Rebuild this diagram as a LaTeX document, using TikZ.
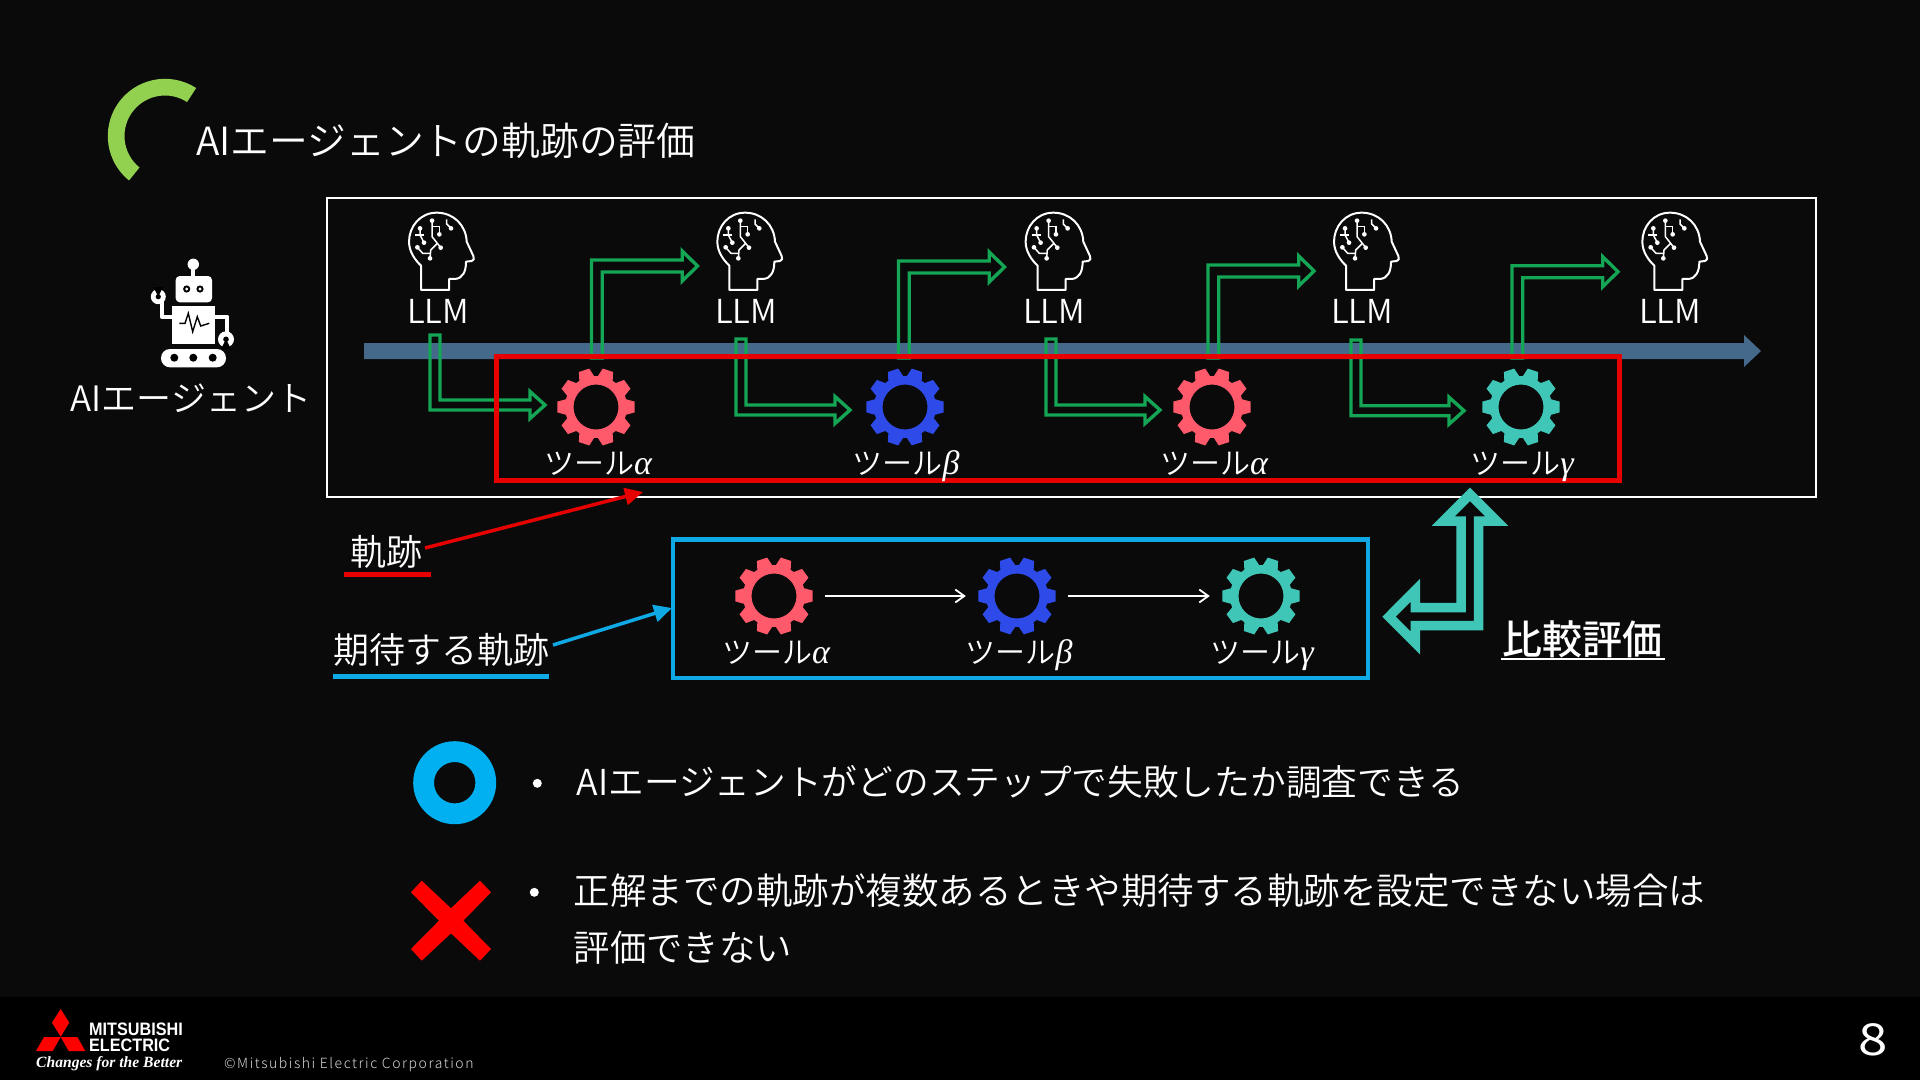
\documentclass[tikz,border=0pt]{standalone}
\usepackage{fontspec}
\usetikzlibrary{arrows.meta}
\setmainfont{Noto Sans CJK JP DemiLight}
\newfontfamily\boldjp{Noto Sans CJK JP Medium}
\newfontfamily\regjp{Noto Sans CJK JP}
\newfontfamily\logosans{Liberation Sans}[BoldFont={Liberation Sans Bold}]
\newfontfamily\logoserif{Liberation Serif}
\newfontfamily\greekit{Liberation Serif}
\newfontfamily\copyfont[LetterSpace=11]{Noto Sans CJK JP Light}
\newcommand{\fs}[1]{\fontsize{#1}{#1}\selectfont}
\newcommand{\grk}[1]{{\greekit\itshape\fs{34}#1}}
\definecolor{bgc}{HTML}{0A0A0A}
\definecolor{arcgreen}{HTML}{92D050}
\definecolor{flowgreen}{HTML}{14A555}
\definecolor{barblue}{HTML}{44698A}
\definecolor{redline}{HTML}{E60000}
\definecolor{skyline}{HTML}{0FA9E6}
\definecolor{coral}{HTML}{FF5A6C}
\definecolor{gearblue}{HTML}{2E4BEA}
\definecolor{teal}{HTML}{40C6B6}
\definecolor{ringblue}{HTML}{00B0F0}
\tikzset{
 txt/.style={inner sep=0pt,text=white,font=\fs{36}},
 lbl/.style={inner sep=0pt,text=white,font=\fs{30},anchor=base},
 llm/.style={inner sep=0pt,text=white,font=\fs{33}},
 flow/.style={draw=flowgreen,line width=3.4pt,miter limit=10},
 ghost/.style={circle,inner sep=0pt,minimum size=102pt},
 thin wire/.style={white,line width=1.5pt}
}
% up-right block arrow: left x, axis y
\newcommand{\uparrowblock}[2]{\draw[flow] (#1,358)--(#1,{#2-6})--({#1+90.7},{#2-6})--({#1+90.7},{#2-15})--({#1+106},#2)--({#1+90.7},{#2+15})--({#1+90.7},{#2+6})--({#1+10.7},{#2+6})--({#1+10.7},358)--cycle;}
% down-right block arrow: left x, top y, axis y, tip x
\newcommand{\downarrowblock}[4]{\draw[flow] (#1,#2)--({#1+10},#2)--({#1+10},{#3-5})--({#4-15},{#3-5})--({#4-15},{#3-13.5})--(#4,#3)--({#4-15},{#3+13.5})--({#4-15},{#3+5})--(#1,{#3+5})--cycle;}
% gear: name, x, y, colour
\newcommand{\gearicon}[4]{%
 \node[ghost] (#1) at (#2,#3) {};
 \begin{scope}[shift={(#2,#3)}]
 \fill[#4,even odd rule] (-14.5:31)
  \foreach \a in {0,36,...,324}{ -- ({\a-14.5}:31) -- ({\a-8}:39) -- ({\a+8}:39) -- ({\a+14.5}:31) } -- cycle
  (0,0) circle[radius=22.5];
 \end{scope}}
% head icon, drawn in the zoom's 3x units
\newcommand{\headicon}[1]{%
 \begin{scope}[shift={(#1,200)},x=0.3333pt,y=-0.3333pt]
 \draw[white,line width=2pt,line join=round] (103,270)--(187,270)--(187,237)--(205,237) .. controls (228,235) and (238,215) .. (238,185) -- (255,183) .. controls (262,182) and (263,175) .. (260,168) -- (240,125) .. controls (238,75) and (200,38) .. (150,38) .. controls (100,38) and (67,80) .. (67,125) .. controls (67,155) and (85,180) .. (103,197) -- cycle;
 \draw[thin wire] (136,62)--(136,110)--(152,130)--(162,143);
 \draw[thin wire] (136,80)--(158,80)--(158,103);
 \draw[thin wire] (152,130)--(132,150)--(130,175);
 \draw[thin wire] (92,142)--(108,160)--(132,160);
 \draw[thin wire] (100,85)--(100,105)--(112,128);
 \draw[thin wire] (85,105)--(112,105);
 \draw[thin wire] (180,58)--(180,72)--(193,85);
 \foreach \p in {(136,62),(162,143),(158,103),(130,175),(92,142),(100,85),(112,128),(193,85)}{\fill[white] \p circle[radius=7];}
 \end{scope}}
\begin{document}
\begin{tikzpicture}[x=1pt,y=-1pt]
\useasboundingbox (0,0) rectangle (1920,1080);
\fill[bgc] (0,0) rectangle (1920,997);
\fill[black] (0,997) rectangle (1920,1080);
% title arc
\fill[arcgreen] ({165+57.2*cos(57)},{136-57.2*sin(57)}) arc[start angle=-57,end angle=-231,radius=57.2] -- ({165+40.5*cos(231)},{136-40.5*sin(231)}) arc[start angle=-231,end angle=-57,radius=40.5] -- cycle;
\node[txt,anchor=west,font=\fs{38.8}] (title) at (196,141) {AIエージェントの軌跡の評価};
% frame
\draw[white,line width=2pt] (327,198) rectangle (1816,497);
% timeline
\fill[barblue] (364,343)--(1744,343)--(1744,335)--(1761,351)--(1744,367)--(1744,359)--(364,359)--cycle;
% green flows
\uparrowblock{591.5}{266}
\uparrowblock{898.5}{267}
\uparrowblock{1208}{271}
\uparrowblock{1512}{271.7}
\downarrowblock{430}{335}{405}{545}
\downarrowblock{736}{339}{410}{850}
\downarrowblock{1046}{339}{410}{1160}
\downarrowblock{1351}{340}{410.7}{1464}
% red trajectory box
\draw[redline,line width=5pt] (496.5,356) rectangle (1619.5,480.5);
% LLM
\foreach \hx in {386.7,695,1003.3,1311.7,1620}{\headicon{\hx}}
\node[llm] (llmA) at (438,311) {LLM};
\node[llm] (llmB) at (746,311) {LLM};
\node[llm] (llmC) at (1054,311) {LLM};
\node[llm] (llmD) at (1362,311) {LLM};
\node[llm] (llmE) at (1670,311) {LLM};
% gears row one
\gearicon{gA}{596}{407}{coral}
\gearicon{gB}{905}{407}{gearblue}
\gearicon{gC}{1212}{407}{coral}
\gearicon{gD}{1521}{407}{teal}
\node[lbl] (tA) at (598,474) {ツール\grk{α}};
\node[lbl] (tB) at (906,474) {ツール\grk{β}};
\node[lbl] (tC) at (1214,474) {ツール\grk{α}};
\node[lbl] (tD) at (1522,474) {ツール\grk{γ}};
% robot
\begin{scope}
\fill[white] (193.3,264.3) circle[radius=5.7];
\fill[white] (191.3,266) rectangle (195.3,278);
\fill[white,rounded corners=4pt] (175.7,276) rectangle (212,302.3);
\foreach \ex in {186.7,200}{\fill[black] (\ex,289) circle[radius=3.6]; \fill[white] (\ex,289) circle[radius=1.6];}
\fill[white] (172.3,306) rectangle (215,344.3);
\draw[black,line width=1.4pt] (179.3,323.3)--(185,323.3)--(188.3,313.3)--(192.7,331.7)--(197.3,316.7)--(200.7,326)--(209.3,323.3);
\draw[white,line width=4pt,line join=round] (172.5,316.7)--(161.7,316.7)--(161.7,300);
\draw[white,line width=4pt,line join=round] (215,316.7)--(227.3,316.7)--(227.3,333);
\fill[white] (158.3,296.7) circle[radius=7.5];
\fill[black] (158.3,296.7)--(153.5,287)--(163,287)--cycle;
\fill[white] (226,339.3) circle[radius=8];
\fill[black] (226,339.3)--(221,349)--(231,349)--cycle;
\fill[black] (226,339.3) circle[radius=2.8];
\fill[black] (158.3,296.7) circle[radius=2.6];
\fill[white,rounded corners=9pt] (161,349) rectangle (226,367.3);
\foreach \wx in {174.3,193.3,212.7}{\fill[black] (\wx,357.7) circle[radius=4];}
\end{scope}
\node[txt,font=\fs{35}] (agent) at (191,398) {AIエージェント};
% teal compare arrow
\draw[teal,fill=bgc,line width=9.5pt,miter limit=10] (1461,521)--(1443.3,521)--(1470,494.3)--(1496.7,521)--(1478.7,521)--(1478.7,625.7)--(1415.3,625.7)--(1415.3,643)--(1389,616.7)--(1415.3,590.3)--(1415.3,607.7)--(1461,607.7)--cycle;
\node[txt,anchor=base,font=\boldjp\fs{40}] (cmp) at (1582,654) {比較評価};
\draw[white,line width=2pt] (1501,658.5)--(1665,658.5);
% labels and pointers
\node[txt] (track) at (386,552) {軌跡};
\draw[redline,line width=5pt] (344,574)--(431,574);
\coordinate (trackStart) at (425,548);
\coordinate (trackEnd) at (643,492);
\draw[redline,line width=3.5pt,-{Triangle[length=18pt,width=17pt]}] (trackStart)--(trackEnd);
\node[txt] (expected) at (441,650) {期待する軌跡};
\draw[skyline,line width=5pt] (333,676)--(549,676);
\coordinate (expStart) at (553,645);
\coordinate (expEnd) at (672,608);
\draw[skyline,line width=3.5pt,-{Triangle[length=18pt,width=17pt]}] (expStart)--(expEnd);
\draw[skyline,line width=4.5pt] (673,539.5) rectangle (1368,678);
\gearicon{hA}{774}{596}{coral}
\gearicon{hB}{1017}{596}{gearblue}
\gearicon{hC}{1261}{596}{teal}
\node[lbl] (uA) at (776,663) {ツール\grk{α}};
\node[lbl] (uB) at (1019,663) {ツール\grk{β}};
\node[lbl] (uC) at (1262,663) {ツール\grk{γ}};
\draw[white,line width=1.8pt,-{Straight Barb[length=9pt,width=13pt]}] (hA)--(hB);
\draw[white,line width=1.8pt,-{Straight Barb[length=9pt,width=13pt]}] (hB)--(hC);
% verdicts
\fill[ringblue,even odd rule] (454.7,782.7) circle[radius=41.5] (454.7,782.7) circle[radius=20.7];
\fill[red] (421.7,880.7)--(451,908.3)--(480,880.7)--(491,892.3)--(463.3,920.7)--(491,949)--(480,960.7)--(451,933.3)--(421.7,960.7)--(411,949)--(439,920.7)--(411,892.3)--cycle;
\fill[white] (537.3,783.3) circle[radius=4.5];
\fill[white] (534.3,892.3) circle[radius=4.5];
\node[txt,anchor=west,font=\fs{35.7}] (good) at (576.5,782) {AIエージェントがどのステップで失敗したか調査できる};
\node[txt,anchor=west,font=\fs{36.5}] (badA) at (573.5,891) {正解までの軌跡が複数あるときや期待する軌跡を設定できない場合は};
\node[txt,anchor=west,font=\fs{36.4}] (badB) at (573.5,948) {評価できない};
% footer
\fill[red] (60.7,1009)--(69.3,1022.7)--(60.7,1036.7)--(52,1022.7)--cycle;
\fill[red] (60.7,1037)--(44,1037)--(36,1051)--(52.7,1051)--cycle;
\fill[red] (60.7,1037)--(77.3,1037)--(85.3,1051)--(68.7,1051)--cycle;
\node[inner sep=0pt,anchor=base west,text=white,font=\logosans\bfseries\fs{18},xscale=0.9] (mit) at (89,1035) {MITSUBISHI};
\node[inner sep=0pt,anchor=base west,text=white,font=\logosans\bfseries\fs{18},xscale=0.9] (ele) at (89,1051) {ELECTRIC};
\node[inner sep=0pt,anchor=base west,text=white,font=\logoserif\bfseries\itshape\fs{15.6}] (chg) at (36,1067) {Changes for the Better};
\node[inner sep=0pt,anchor=base west,text=white!85!black,font=\copyfont\fs{14}] (copy) at (224,1068) {©Mitsubishi Electric Corporation};
\node[txt,font=\regjp\fs{44},xscale=1.2] (page) at (1873,1040) {8};
\end{tikzpicture}
\end{document}
